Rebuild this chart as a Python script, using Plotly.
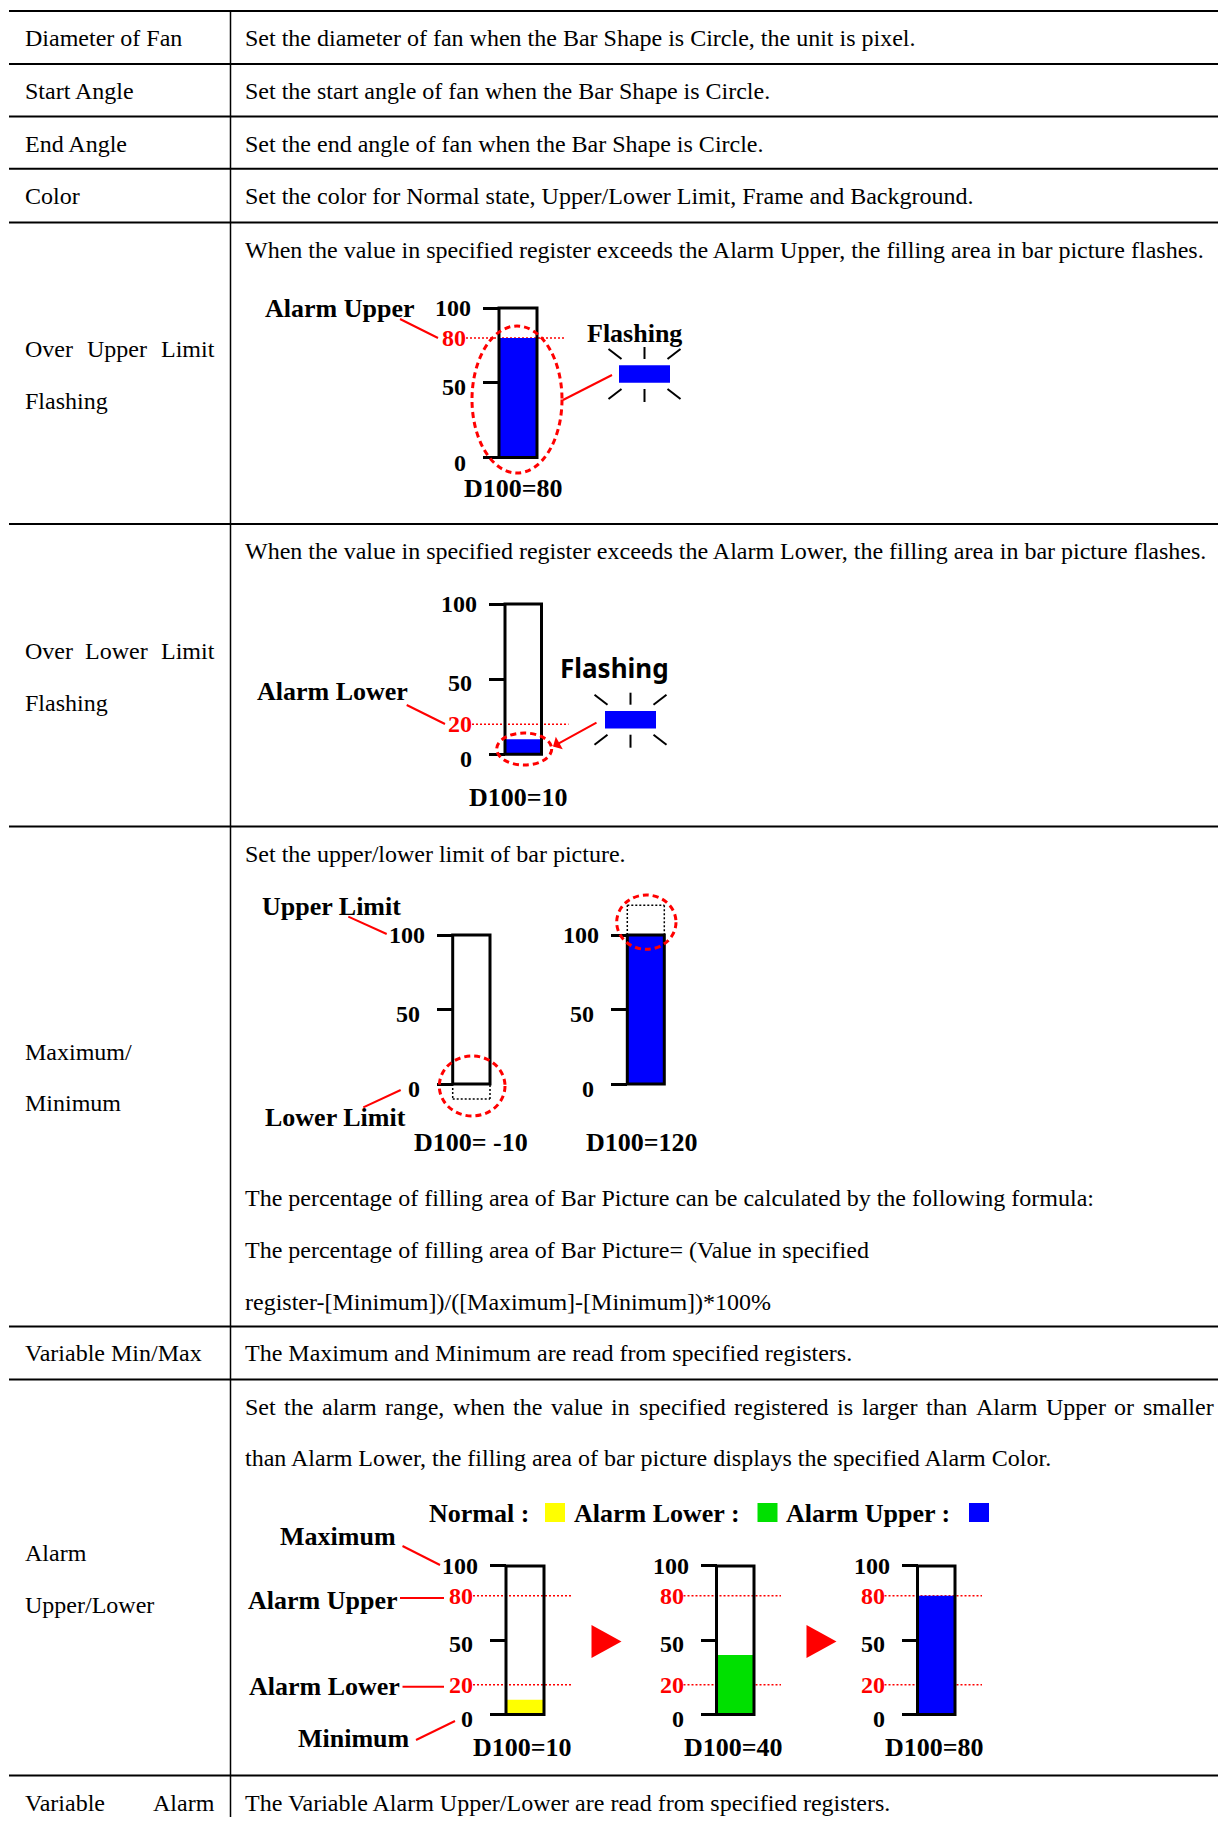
import plotly.graph_objects as go

W, H = 1226, 1825          # reference canvas (pixels)
OFF = 8                    # default page body margin of the html page
FW, FH = W - 2 * OFF, H - 2 * OFF   # figure size that fits inside the page
SERIF = "Liberation Serif"
SANS = "Noto Sans"

# ---------------- data ----------------
left_texts = ["Diameter of Fan", "Start Angle", "End Angle", "Color",
              "Over Upper Limit", "Flashing", "Over Lower Limit", "Flashing",
              "Maximum/", "Minimum", "Variable Min/Max", "Alarm", "Upper/Lower",
              "Variable Alarm"]
left_justified = [False, False, False, False, True, False, True, False,
                  False, False, False, False, False, True]
right_texts = [
    "Set the diameter of fan when the Bar Shape is Circle, the unit is pixel.",
    "Set the start angle of fan when the Bar Shape is Circle.",
    "Set the end angle of fan when the Bar Shape is Circle.",
    "Set the color for Normal state, Upper/Lower Limit, Frame and Background.",
    "When the value in specified register exceeds the Alarm Upper, the filling area in bar picture flashes.",
    "When the value in specified register exceeds the Alarm Lower, the filling area in bar picture flashes.",
    "Set the upper/lower limit of bar picture.",
    "The percentage of filling area of Bar Picture can be calculated by the following formula:",
    "The percentage of filling area of Bar Picture= (Value in specified",
    "register-[Minimum])/([Maximum]-[Minimum])*100%",
    "The Maximum and Minimum are read from specified registers.",
    "Set the alarm range, when the value in specified registered is larger than Alarm Upper or smaller",
    "than Alarm Lower, the filling area of bar picture displays the specified Alarm Color.",
    "The Variable Alarm Upper/Lower are read from specified registers.",
]
right_justified = [False] * 11 + [True, False, False]

gauge_titles = ["D100=80", "D100=10", "D100= -10", "D100=120", "D100=10", "D100=40", "D100=80"]
gauge_values = [80, 10, -10, 120, 10, 40, 80]
gauge_colors = ["#0000ff", "#0000ff", "#0000ff", "#0000ff", "#ffff00", "#00e000", "#0000ff"]
gauge_alarm_marks = [[80], [20], [], [], [80, 20], [80, 20], [80, 20]]
scale_min, scale_max = 0, 100
scale_ticks = [0, 50, 100]
scale_tick_text = ["0", "50", "100"]

legend_labels = ["Normal :", "Alarm Lower :", "Alarm Upper :"]
legend_colors = ["#ffff00", "#00e000", "#0000ff"]

# ---------------- layout geometry (reference pixels) ----------------
rule_ys = [11, 64, 116.4, 168.8, 222.4, 524, 826.5, 1326.6, 1379.4, 1775.6]
left_ys = [38, 91, 143.5, 196, 349, 401, 650.5, 702.5, 1052, 1103, 1353.3, 1552.5, 1605, 1803]
right_ys = [38, 91, 143.5, 196, 249.8, 551, 854, 1197.5, 1250, 1302, 1353.3, 1407, 1458, 1803]
COL_X = 230.5
LX0, LX1 = 24.5, 214.5
RX0, RX1 = 244.5, 1213.5

gauge_geom = [  # left, right, top(100), bottom(0)
    (499, 537, 308, 457.5),
    (505, 541.5, 604, 754.3),
    (452.7, 490, 935, 1084),
    (627.3, 664.3, 935, 1084),
    (506, 544, 1566, 1714.5),
    (716.5, 754, 1566, 1714.5),
    (917.5, 955, 1566, 1714.5),
]
gauge_title_pos = [(513, 488.5), (518, 797.5), (471, 1142), (642, 1142),
                   (522, 1747), (733, 1747), (934.5, 1747)]
tick_label_gap = {0: 33, 50: 33, 100: 28}      # px from frame to label's right edge
tick_label_yshift = {0: -5, 50: -4, 100: 0}

# Times metrics (1/1000 em)
TW = {' ': 250, '!': 333, '"': 408, '#': 500, '$': 500, '%': 833, '&': 778, "'": 180,
      '(': 333, ')': 333, '*': 500, '+': 564, ',': 250, '-': 333, '.': 250, '/': 278,
      ':': 278, ';': 278, '<': 564, '=': 564, '>': 564, '?': 444, '@': 921, '[': 333,
      ']': 333, '_': 500}
for c in "0123456789":
    TW[c] = 500
for c, w in zip("ABCDEFGHIJKLMNOPQRSTUVWXYZ",
                [722, 667, 667, 722, 611, 556, 722, 722, 333, 389, 722, 611, 889, 722, 722,
                 556, 722, 667, 556, 611, 722, 722, 944, 722, 722, 611]):
    TW[c] = w
for c, w in zip("abcdefghijklmnopqrstuvwxyz",
                [444, 500, 444, 500, 444, 333, 500, 500, 278, 278, 500, 278, 778, 500, 500,
                 500, 500, 333, 389, 278, 500, 500, 722, 500, 500, 444]):
    TW[c] = w


def text_w(s, size):
    return sum(TW.get(c, 500) for c in s) / 1000.0 * size


def paper_x(px):
    return (px - OFF) / FW


def paper_y(py):
    return 1 - (py - OFF) / FH


shapes = []
annotations = []


def line(x0, y0, x1, y1, color="black", width=2, dash=None, yref="y", layer="above"):
    ln = dict(color=color, width=width)
    if dash:
        ln["dash"] = dash
    shapes.append(dict(type="line", x0=x0, y0=y0, x1=x1, y1=y1, xref="x", yref=yref,
                       line=ln, layer=layer))


def txt(x, y, s, size=24, bold=False, color="black", xanchor="left", family=SERIF,
        yref="y", yshift=0):
    annotations.append(dict(x=x, y=y, xref="x", yref=yref, text=s, showarrow=False,
                            xanchor=xanchor, yanchor="middle", borderpad=0, borderwidth=0,
                            yshift=yshift,
                            font=dict(family=family, size=size, color=color,
                                      weight="bold" if bold else "normal")))


def justified(s, x0, x1, y, size=24):
    words = s.split()
    widths = [text_w(w, size) for w in words]
    gap = (x1 - x0 - sum(widths)) / (len(words) - 1)
    x = x0
    for i, (w, wd) in enumerate(zip(words, widths)):
        if i == len(words) - 1:
            txt(x1, y, w, size, xanchor="right")
        else:
            txt(x, y, w, size)
        x += wd + gap


# ---------------- table ----------------
for y in rule_ys:
    line(9, y, W, y, width=2)
line(COL_X, rule_ys[0], COL_X, H, width=1.5)

for s, y, j in zip(left_texts, left_ys, left_justified):
    if j:
        justified(s, LX0, LX1, y)
    else:
        txt(LX0, y, s)
for s, y, j in zip(right_texts, right_ys, right_justified):
    if j:
        justified(s, RX0, RX1, y)
    else:
        txt(RX0, y, s)

# ---------------- gauges ----------------
traces = [go.Scatter(x=[OFF + 1], y=[OFF + 1], mode="markers", marker=dict(opacity=0),
                     hoverinfo="skip", showlegend=False, xaxis="x", yaxis="y")]
yaxes = {}
R0, R1 = -30, 135
for i, ((l, r, t, b), val, col, marks, title, tpos) in enumerate(
        zip(gauge_geom, gauge_values, gauge_colors, gauge_alarm_marks, gauge_titles, gauge_title_pos)):
    n = i + 2
    yr = f"y{n}"
    k = (b - t) / (scale_max - scale_min)
    d0 = paper_y(b - (R0 - scale_min) * k)
    d1 = paper_y(b - (R1 - scale_min) * k)
    yaxes[f"yaxis{n}"] = dict(
        domain=[d0, d1], range=[R0, R1], anchor="free", position=paper_x(l), side="left",
        showline=False, showgrid=False, zeroline=False, fixedrange=True,
        tickmode="array", tickvals=scale_ticks, showticklabels=False,
        ticks="outside", ticklen=16, tickwidth=3, tickcolor="black")
    # scale labels, placed on the gauge's own axis
    for tv, tt in zip(scale_ticks, scale_tick_text):
        txt(l - tick_label_gap[tv], tv, tt, size=24, bold=True, xanchor="right", yref=yr,
            yshift=tick_label_yshift[tv])
    fill = min(max(val, scale_min), scale_max)
    if fill > scale_min:
        traces.append(go.Bar(x=[(l + r) / 2], y=[fill - scale_min], base=scale_min,
                             width=[r - l], marker=dict(color=col, line=dict(width=0)),
                             xaxis="x", yaxis=yr, hoverinfo="skip", showlegend=False))
    # frame
    shapes.append(dict(type="rect", xref="x", yref=yr, x0=l, x1=r, y0=scale_min, y1=scale_max,
                       line=dict(color="black", width=3), fillcolor="rgba(0,0,0,0)", layer="above"))
    # out-of-range dotted boxes
    if val > scale_max:
        for (xa, ya, xb, yb) in [(l, scale_max, l, val), (l, val, r, val), (r, val, r, scale_max)]:
            line(xa, ya, xb, yb, width=1.5, dash="2px,2px", yref=yr)
    if val < scale_min:
        for (xa, ya, xb, yb) in [(l, scale_min, l, val), (l, val, r, val), (r, val, r, scale_min)]:
            line(xa, ya, xb, yb, width=1.5, dash="2px,2px", yref=yr)
    # alarm marks
    for m in marks:
        line(l - 33, m, r + 27, m, color="red", width=1.5, dash="2px,2px", yref=yr, layer="below")
        txt(l - 33, m, str(m), size=24, bold=True, color="red", xanchor="right", yref=yr)
    txt(tpos[0], tpos[1], title, size=26, bold=True, xanchor="center")

# ---------------- decorations ----------------
RED = "red"
# section 1: over upper
txt(265, 308, "Alarm Upper", 26, True)
line(400, 319, 438, 338, RED, 2)
shapes.append(dict(type="circle", xref="x", yref="y", x0=472, x1=562, y0=326, y1=473,
                   line=dict(color=RED, width=3, dash="6px,4px")))
line(563, 400, 612, 375, RED, 2)
txt(586.7, 333, "Flashing", 26, True)
# section 2: over lower
txt(256.7, 691.7, "Alarm Lower", 26, True)
line(406.7, 705, 445, 724, RED, 2)
shapes.append(dict(type="circle", xref="x", yref="y", x0=496.7, x1=551.7, y0=733, y1=765,
                   line=dict(color=RED, width=3, dash="6px,4px")))
annotations.append(dict(x=553, y=746.5, ax=598, ay=721.7, xref="x", yref="y", axref="x",
                        ayref="y", text="", showarrow=True, arrowhead=1, arrowsize=1.2,
                        arrowwidth=2, arrowcolor=RED))
txt(560, 668.3, "Flashing", 26, True, family=SANS)

# flash icons
for (cx, cy) in [(644.5, 374), (630.5, 719.7)]:
    shapes.append(dict(type="rect", xref="x", yref="y", x0=cx - 25.5, x1=cx + 25.5,
                       y0=cy - 8.8, y1=cy + 8.8, fillcolor="#0000ff", line=dict(width=0)))
    for (a, b_, c, d) in [(0, -27, 0, -15), (-36, -25, -23, -15), (36, -25, 23, -15),
                          (0, 15, 0, 28), (-36, 25, -23, 15), (36, 25, 23, 15)]:
        line(cx + a, cy + b_, cx + c, cy + d, "black", 2)

# section 3: max / min
shapes.append(dict(type="circle", xref="x", yref="y", x0=439.3, x1=505, y0=1056, y1=1116,
                   line=dict(color=RED, width=3, dash="6px,4px")))
shapes.append(dict(type="circle", xref="x", yref="y", x0=616.7, x1=676, y0=895, y1=949.3,
                   line=dict(color=RED, width=3, dash="6px,4px")))
txt(261.7, 906.7, "Upper Limit", 26, True)
line(348.3, 916.7, 386.7, 934, RED, 2)
txt(265, 1117.3, "Lower Limit", 26, True)
line(363.3, 1107.3, 400.7, 1090, RED, 2)

# section 4: alarm upper/lower
txt(280, 1536.7, "Maximum", 26, True)
line(402.5, 1546, 440, 1565, RED, 2)
txt(247.5, 1600, "Alarm Upper", 26, True)
line(400, 1598, 444, 1598, RED, 2)
txt(248.5, 1686.7, "Alarm Lower", 26, True)
line(402.5, 1686.7, 444, 1686.7, RED, 2)
txt(297.5, 1738.3, "Minimum", 26, True)
line(416, 1740, 455, 1721, RED, 2)

for (x0, x1) in [(591.5, 621.5), (806.5, 836.5)]:
    shapes.append(dict(type="path", xref="x", yref="y",
                       path=f"M {x0},1625 L {x1},1641.5 L {x0},1658 Z",
                       fillcolor=RED, line=dict(width=0)))

legend_label_x = [428.5, 574, 786]
legend_square_x = [545, 757.5, 969]
for lab, lx, sx, col in zip(legend_labels, legend_label_x, legend_square_x, legend_colors):
    txt(lx, 1513, lab, 26, True)
    shapes.append(dict(type="rect", xref="x", yref="y", x0=sx, x1=sx + 20, y0=1503, y1=1522,
                       fillcolor=col, line=dict(width=0)))

layout = dict(
    width=FW, height=FH, margin=dict(l=0, r=0, t=0, b=0, pad=0), autosize=False,
    paper_bgcolor="white", plot_bgcolor="rgba(0,0,0,0)", showlegend=False, barmode="overlay",
    xaxis=dict(range=[OFF, OFF + FW], domain=[0, 1], visible=False, fixedrange=True),
    yaxis=dict(range=[OFF + FH, OFF], domain=[0, 1], visible=False, fixedrange=True),
    shapes=shapes, annotations=annotations,
)
layout.update(yaxes)

fig = go.Figure(data=traces, layout=layout)
fig.write_html("out.html")
